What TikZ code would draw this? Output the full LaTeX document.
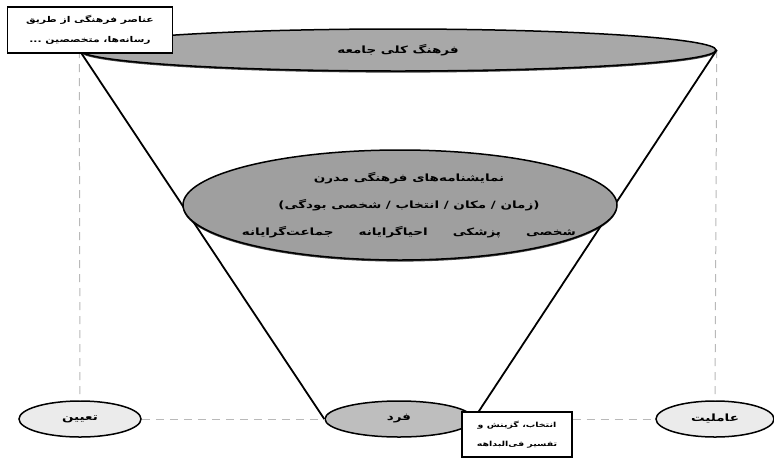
\documentclass[tikz,border=0pt]{standalone}
\usepackage{fontspec}
\usepackage{tikz}
\usetikzlibrary{shapes.geometric,shadows}
\newfontfamily\arabicfont[Script=Arabic,FakeStretch=1.35]{DejaVu Sans}
\TeXXeTstate=1
\newcommand{\fatext}[1]{\beginR #1\endR}

\tikzset{
    oval/.style={ellipse, draw, line width=1.5pt, inner sep=0pt, align=center,
        font=\arabicfont\bfseries\fontsize{10}{27}\selectfont},
    shade below/.style={drop shadow={shadow xshift=0pt, shadow yshift=-1.6pt, fill=black, opacity=0.75}},
    notebox/.style={draw, line width=1.3pt, fill=white, align=center, inner sep=3pt},
    guide/.style={gray!55, line width=1pt, dash pattern=on 8pt off 6pt},
    cone/.style={line width=1.8pt}
}

\begin{document}
\begin{tikzpicture}[x=1pt,y=-1pt]
    \useasboundingbox (0,0) rectangle (774,459);

    % bottom row
    \node[oval, fill=gray!16, minimum width=122pt, minimum height=36pt] (taein) at (80,419) {\fatext{تعیین}};
    \node[oval, fill=gray!51, minimum width=148pt, minimum height=36pt] (fard) at (399,419) {\fatext{فرد}};
    \node[oval, fill=gray!16, minimum width=118pt, minimum height=36pt] (ameliyat) at (715,419) {\fatext{عاملیت}};

    % top ellipse
    \node[oval, shade below, fill=gray!68, minimum width=636pt, minimum height=42pt] (jameh) at (398,50) {\fatext{فرهنگ کلی جامعه}};

    % dashed guides
    \draw[guide] (jameh.west) -- (taein.north);
    \draw[guide] (jameh.east) -- (ameliyat.north);
    \draw[guide] (taein.east) -- (fard.west);

    % cone
    \draw[cone] (jameh.west) -- (fard.west);
    \draw[cone] (jameh.east) -- (fard.east);

    % middle ellipse, text set on top of it
    \node[oval, shade below, fill=gray!75, minimum width=434pt, minimum height=110pt] (namayesh) at (400,205) {};
    \node[align=center, font=\arabicfont\bfseries\fontsize{10}{27}\selectfont] (namayeshtext) at ([xshift=9pt]namayesh.center)
        {\fatext{نمایشنامه‌های فرهنگی مدرن}\\
         \fatext{(زمان / مکان / انتخاب / شخصی بودگی)}\\
         \fatext{شخصی\qquad\enspace پزشکی\qquad\enspace احیاگرایانه\qquad\enspace جماعت‌گرایانه}};

    % notes
    \node[notebox, font=\arabicfont\bfseries\fontsize{8}{20}\selectfont,
          minimum width=165pt, minimum height=46pt] (anasor) at (90,30)
        {\fatext{عناصر فرهنگی از طریق}\\\fatext{رسانه‌ها، متخصصین ...}};
    \node[notebox, font=\arabicfont\bfseries\fontsize{7}{19}\selectfont,
          minimum width=110pt, minimum height=45pt] (tafsir) at (517,434.5)
        {\fatext{انتخاب، گزینش و}\\\fatext{تفسیر فی‌البداهه}};
    \draw[guide] (tafsir.east |- ameliyat.west) -- (ameliyat.west);
\end{tikzpicture}
\end{document}
